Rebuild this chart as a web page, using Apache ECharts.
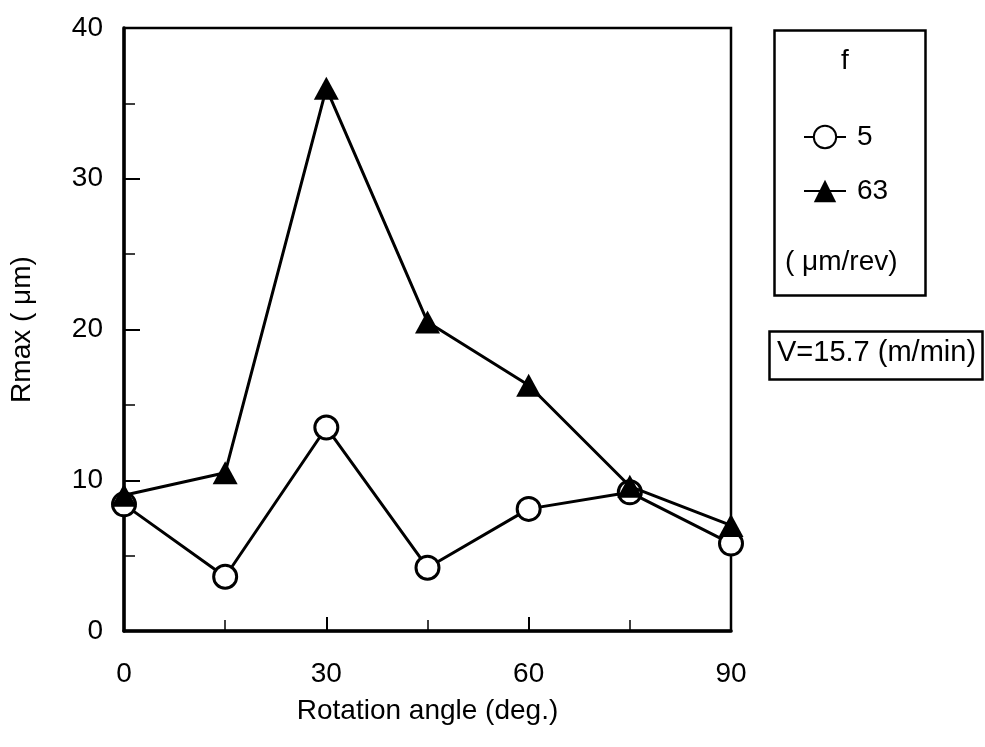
<!DOCTYPE html>
<html>
<head>
<meta charset="utf-8">
<title>Rmax vs rotation angle</title>
<script src="https://cdn.jsdelivr.net/npm/echarts@6/dist/echarts.min.js"></script>
<style>
  html, body { margin: 0; padding: 0; background: #fff; }
  #chart { width: 985px; height: 747px; }
</style>
</head>
<body>
<div id="chart"></div>
<script>
// Rotation angle (deg.) of each measurement
const angles = [0, 15, 30, 45, 60, 75, 90];
// Rmax (µm) for feed f = 5 µm/rev
const rmaxF5 = [8.4, 3.6, 13.5, 4.2, 8.1, 9.2, 5.8];
// Rmax (µm) for feed f = 63 µm/rev
const rmaxF63 = [9.0, 10.5, 36.0, 20.5, 16.3, 9.6, 7.0];
const xTicks = [0, 30, 60, 90];
const yTicks = [0, 10, 20, 30, 40];

const FONT = '"Liberation Sans", Arial, sans-serif';
const FS = 28;

const pairs = (xs, ys) => xs.map((x, i) => [x, ys[i]]);

const chart = echarts.init(document.getElementById('chart'), null, { renderer: 'canvas' });

const axisCommon = {
  axisLine: { show: true, onZero: false, lineStyle: { color: '#000', width: 3.5 } },
  splitLine: { show: false },
  axisLabel: { color: '#000', fontFamily: FONT, fontSize: FS },
  nameTextStyle: { color: '#000', fontFamily: FONT, fontSize: FS }
};

chart.setOption({
  animation: false,
  backgroundColor: '#fff',
  grid: {
    left: 124, top: 28, right: 254, bottom: 116,
    show: true, borderColor: '#000', borderWidth: 2.5, backgroundColor: 'transparent'
  },
  xAxis: Object.assign({}, axisCommon, {
    type: 'value',
    min: xTicks[0], max: xTicks[xTicks.length - 1], interval: 30,
    name: 'Rotation angle (deg.)',
    nameLocation: 'middle', nameGap: 66,
    axisTick: { show: true, inside: true, length: 14, lineStyle: { color: '#000', width: 2 } },
    minorTick: { show: true, splitNumber: 2, length: 11, lineStyle: { color: '#000', width: 1.5 } },
    axisLabel: Object.assign({}, axisCommon.axisLabel, { margin: 29 })
  }),
  yAxis: Object.assign({}, axisCommon, {
    type: 'value',
    min: yTicks[0], max: yTicks[yTicks.length - 1], interval: 10,
    name: 'Rmax ( \u03bcm)',
    nameLocation: 'middle', nameGap: 88, nameRotate: 90,
    axisTick: { show: true, inside: true, length: 16, lineStyle: { color: '#000', width: 2 } },
    minorTick: { show: true, splitNumber: 2, length: 11, lineStyle: { color: '#000', width: 1.5 } },
    axisLabel: Object.assign({}, axisCommon.axisLabel, { margin: 21 })
  }),
  legend: {
    orient: 'vertical',
    left: 798, top: 118,
    itemWidth: 42, itemHeight: 28, itemGap: 26,
    textStyle: { color: '#000', fontFamily: FONT, fontSize: FS, padding: [0, 0, 0, 6] },
    data: ['5', '63']
  },
  series: [
    {
      name: '5', type: 'line', z: 2,
      data: pairs(angles, rmaxF5),
      symbol: 'circle', symbolSize: 23,
      lineStyle: { color: '#000', width: 3 },
      itemStyle: { color: '#fff', borderColor: '#000', borderWidth: 3 }
    },
    {
      name: '63', type: 'line', z: 3,
      data: pairs(angles, rmaxF63),
      symbol: 'triangle', symbolSize: [25, 23],
      lineStyle: { color: '#000', width: 3 },
      itemStyle: { color: '#000', borderColor: '#000', borderWidth: 0 }
    }
  ],
  graphic: [
    {
      type: 'rect', left: 772, top: 28,
      shape: { width: 151, height: 265 },
      style: { fill: 'none', stroke: '#000', lineWidth: 2.5 }
    },
    {
      type: 'text', left: 841, top: 47,
      style: { text: 'f', fill: '#000', font: FS + 'px ' + FONT }
    },
    {
      type: 'text', left: 785, top: 248,
      style: { text: '( \u03bcm/rev)', fill: '#000', font: FS + 'px ' + FONT }
    },
    {
      type: 'rect', left: 767, top: 329,
      shape: { width: 213, height: 48 },
      style: { fill: 'none', stroke: '#000', lineWidth: 2.5 }
    },
    {
      type: 'text', left: 777, top: 338,
      style: { text: 'V=15.7 (m/min)', fill: '#000', font: '29px ' + FONT }
    }
  ]
});
</script>
</body>
</html>
